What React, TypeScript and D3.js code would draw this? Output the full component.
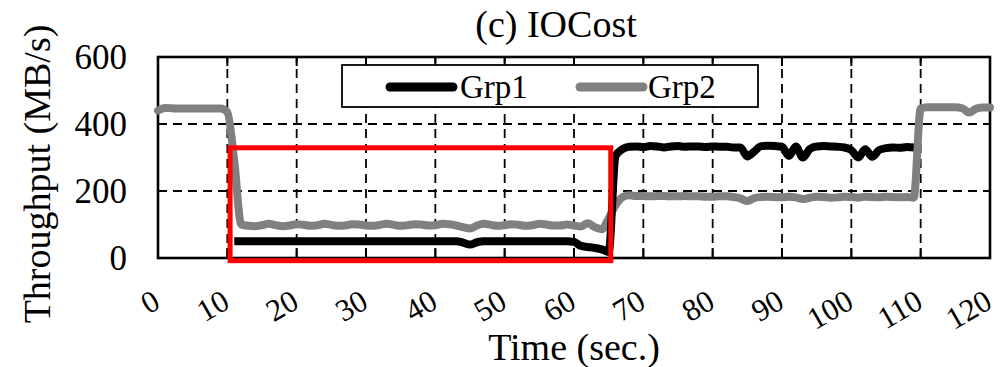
import React from "react";
import * as d3 from "d3";

const xTicks = [0, 10, 20, 30, 40, 50, 60, 70, 80, 90, 100, 110, 120];
const yTicks = [0, 200, 400, 600];
const seriesNames = ["Grp1", "Grp2"];

// Grp2 (gray): one value per second, t = 0..120
const grp2Start = 0;
const grp2Values = [
  440, 448, 447, 446, 446, 446, 446, 446, 446, 446,
  435, 290, 100, 96, 95, 98, 102, 98, 95, 97,
  101, 99, 96, 98, 102, 99, 96, 97, 101, 100,
  97, 96, 99, 102, 99, 96, 98, 101, 100, 97,
  98, 102, 101, 97, 92, 88, 97, 102, 99, 96,
  98, 101, 99, 96, 98, 102, 100, 97, 97, 100,
  97, 94, 104, 92, 86, 118, 158, 182, 187, 185,
  185, 184, 185, 185, 184, 184, 185, 184, 184, 183,
  183, 184, 184, 182, 178, 170, 179, 182, 183, 182,
  181, 183, 181, 176, 180, 183, 182, 180, 181, 183,
  182, 180, 183, 182, 181, 183, 182, 181, 182, 180,
  446, 450, 450, 450, 450, 450, 447, 434, 446, 449,
  449,
];

// Grp1 (black): one value per second, t = 11..109
const grp1Start = 11;
const grp1Values = [
  50, 50, 50, 50, 50, 50, 50, 50, 50,
  50, 50, 50, 50, 50, 50, 50, 50, 50, 50,
  50, 50, 50, 50, 50, 50, 50, 50, 50, 50,
  50, 50, 50, 50, 46, 40, 47, 50, 50, 50,
  50, 50, 50, 50, 50, 50, 50, 50, 50, 50,
  48, 36, 33, 30, 26, 18, 305, 325, 332, 333,
  331, 334, 333, 330, 333, 334, 332, 333, 333, 331,
  333, 332, 332, 330, 330, 303, 318, 334, 335, 334,
  332, 305, 333, 300, 325, 333, 334, 333, 332, 330,
  322, 300, 325, 302, 322, 328, 330, 329, 331, 330,
];

// highlighted region (data units)
const boxX = [10.4, 65.3];
const boxY = [-8, 329];

const W = 1006;
const H = 367;
const FF = "Liberation Serif";

export default function App() {
  const x = d3.scaleLinear().domain([0, 120]).range([158, 990]);
  const y = d3.scaleLinear().domain([0, 600]).range([258, 57]);

  const grp1 = grp1Values.map((v, i) => [grp1Start + i, v] as [number, number]);
  const grp2 = grp2Values.map((v, i) => [grp2Start + i, v] as [number, number]);

  const line = d3
    .line<[number, number]>()
    .x((d) => x(d[0]))
    .y((d) => y(d[1]))
    .curve(d3.curveMonotoneX);

  const [x0, x1] = x.range();
  const [yb, yt] = y.range();

  return (
    <div style={{ position: "fixed", left: 0, top: 0 }}>
      <svg
        width={W}
        height={H}
        fontFamily={FF}
        style={{ display: "block", background: "#fff", fontFamily: '"Liberation Serif"' }}
      >
        {/* grid */}
        <g stroke="#000" strokeWidth={1.8} strokeDasharray="9,6" fill="none">
          {xTicks
            .filter((t) => t > 0 && t < 120)
            .map((t) => (
              <line key={"gx" + t} x1={x(t)} x2={x(t)} y1={yb} y2={yt} />
            ))}
          {yTicks
            .filter((t) => t > 0 && t < 600)
            .map((t) => (
              <line key={"gy" + t} x1={x0} x2={x1} y1={y(t)} y2={y(t)} />
            ))}
        </g>
        {/* inside ticks */}
        <g stroke="#000" strokeWidth={2}>
          {xTicks.map((t) => (
            <line key={"tb" + t} x1={x(t)} x2={x(t)} y1={yb} y2={yb - 10} />
          ))}
          {xTicks.map((t) => (
            <line key={"tt" + t} x1={x(t)} x2={x(t)} y1={yt} y2={yt + 9} />
          ))}
          {yTicks.map((t) => (
            <line key={"tl" + t} x1={x0} x2={x0 + 9} y1={y(t)} y2={y(t)} />
          ))}
        </g>
        {/* frame */}
        <rect x={x0} y={yt} width={x1 - x0} height={yb - yt} fill="none" stroke="#000" strokeWidth={2.6} />
        {/* series */}
        <path
          d={line(grp2) || ""}
          fill="none"
          stroke="#808080"
          strokeWidth={8}
          strokeLinejoin="round"
          strokeLinecap="round"
        />
        <path
          d={line(grp1) || ""}
          fill="none"
          stroke="#000"
          strokeWidth={8}
          strokeLinejoin="round"
          strokeLinecap="butt"
        />
        {/* highlight box */}
        <rect
          x={x(boxX[0])}
          y={y(boxY[1])}
          width={x(boxX[1]) - x(boxX[0])}
          height={y(boxY[0]) - y(boxY[1])}
          fill="none"
          stroke="#ff0000"
          strokeWidth={5}
        />
        {/* legend */}
        <rect x={342} y={65} width={416} height={42} fill="#fff" stroke="#000" strokeWidth={1.8} />
        <line x1={390} x2={453} y1={87} y2={87} stroke="#000" strokeWidth={9} strokeLinecap="round" />
        <text x={460} y={98} fontSize={33} fontFamily={FF} style={{ fontFamily: '"Liberation Serif"' }}>
          {seriesNames[0]}
        </text>
        <line x1={580} x2={643} y1={87} y2={87} stroke="#808080" strokeWidth={9} strokeLinecap="round" />
        <text x={648} y={98} fontSize={33} fontFamily={FF} style={{ fontFamily: '"Liberation Serif"' }}>
          {seriesNames[1]}
        </text>
        {/* y tick labels */}
        {yTicks.map((t) => (
          <text
            key={"yl" + t}
            x={127}
            y={y(t) + 12}
            fontSize={35}
            textAnchor="end"
            fontFamily={FF}
            style={{ fontFamily: '"Liberation Serif"' }}
          >
            {t}
          </text>
        ))}
        {/* x tick labels */}
        {xTicks.map((t) => (
          <text
            key={"xl" + t}
            transform={`translate(${x(t) + 4},307) rotate(-30)`}
            fontSize={31}
            textAnchor="end"
            fontFamily={FF}
            style={{ fontFamily: '"Liberation Serif"' }}
          >
            {t}
          </text>
        ))}
        {/* titles */}
        <text x={556} y={37} fontSize={38} textAnchor="middle" fontFamily={FF} style={{ fontFamily: '"Liberation Serif"' }}>
          (c) IOCost
        </text>
        <text x={574} y={360} fontSize={38} textAnchor="middle" fontFamily={FF} style={{ fontFamily: '"Liberation Serif"' }}>
          Time (sec.)
        </text>
        <text
          transform="translate(50,174) rotate(-90)"
          fontSize={38}
          textAnchor="middle"
          fontFamily={FF}
          style={{ fontFamily: '"Liberation Serif"' }}
        >
          Throughput (MB/s)
        </text>
      </svg>
    </div>
  );
}
